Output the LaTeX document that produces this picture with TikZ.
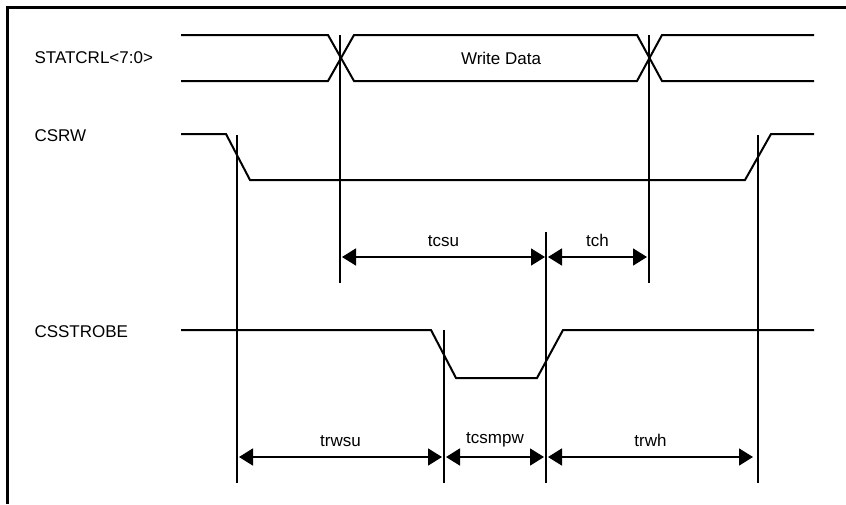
\documentclass[tikz,border=0pt]{standalone}
\usepackage{fontspec}
\setmainfont{Liberation Sans}
\usetikzlibrary{arrows.meta}

\tikzset{
    wave/.style={line width=2pt},
    marker/.style={line width=1.8pt},
    dim/.style={line width=1.6pt, {Triangle[length=14pt,width=17pt]}-{Triangle[length=14pt,width=17pt]}},
    signame/.style={anchor=west, font=\fontsize{17}{17}\selectfont},
    timelabel/.style={font=\fontsize{17}{17}\selectfont}
}

\begin{document}
\begin{tikzpicture}[x=1pt, y=-1pt]
            \useasboundingbox (0, 0) rectangle (846, 504);
            % frame (only top and left survive on the page)
            \draw[line width=3pt] (846, 7) -- (7, 7) -- (7, 504);

            % signal names
            \node[signame] (statcrl) at (31, 58) {STATCRL<7:0>};
            \node[signame] (csrw) at (31, 136) {CSRW};
            \node[signame] (csstrobe) at (31, 332) {CSSTROBE};

            % STATCRL<7:0> bus
            \draw[wave] (181, 35) -- (328, 35) -- (354, 81) -- (637, 81) -- (662, 35) -- (814, 35);
            \draw[wave] (181, 81) -- (328, 81) -- (354, 35) -- (637, 35) -- (662, 81) -- (814, 81);
            \node[timelabel] (wdata) at (501, 58) {Write Data};

            % CSRW
            \draw[wave] (181, 134) -- (226, 134) -- (250, 180) -- (745, 180) -- (771, 134) -- (814, 134);

            % CSSTROBE
            \draw[wave] (181, 330) -- (431, 330) -- (456, 378) -- (537, 378) -- (563, 330) -- (814, 330);

            % edge markers
            \coordinate (ma) at (237, 135);
            \coordinate (mb) at (340, 35);
            \coordinate (mc) at (444, 330);
            \coordinate (md) at (546, 232);
            \coordinate (me) at (649, 35);
            \coordinate (mf) at (758, 135);
            \draw[marker] (ma) -- (237, 483);
            \draw[marker] (mb) -- (340, 283);
            \draw[marker] (mc) -- (444, 483);
            \draw[marker] (md) -- (546, 483);
            \draw[marker] (me) -- (649, 283);
            \draw[marker] (mf) -- (758, 483);

            % tcsu and tch
            \coordinate (csua) at (342, 257);
            \coordinate (csub) at (545, 257);
            \coordinate (cha) at (548, 257);
            \coordinate (chb) at (647, 257);
            \draw[dim] (csua) -- (csub) node[timelabel, midway, above=6pt] (tcsu) {tcsu};
            \draw[dim] (cha) -- (chb) node[timelabel, midway, above=6pt] (tch) {tch};

            % trwsu, tcsmpw, trwh
            \coordinate (rwsua) at (239, 457);
            \coordinate (rwsub) at (442, 457);
            \coordinate (mpwa) at (446, 457);
            \coordinate (mpwb) at (544, 457);
            \coordinate (rwha) at (548, 457);
            \coordinate (rwhb) at (753, 457);
            \draw[dim] (rwsua) -- (rwsub) node[timelabel, midway, above=6pt] (trwsu) {trwsu};
            \draw[dim] (mpwa) -- (mpwb) node[timelabel, midway, above=6pt] (tcsmpw) {tcsmpw};
            \draw[dim] (rwha) -- (rwhb) node[timelabel, midway, above=6pt] (trwh) {trwh};
        \end{tikzpicture}
\end{document}
